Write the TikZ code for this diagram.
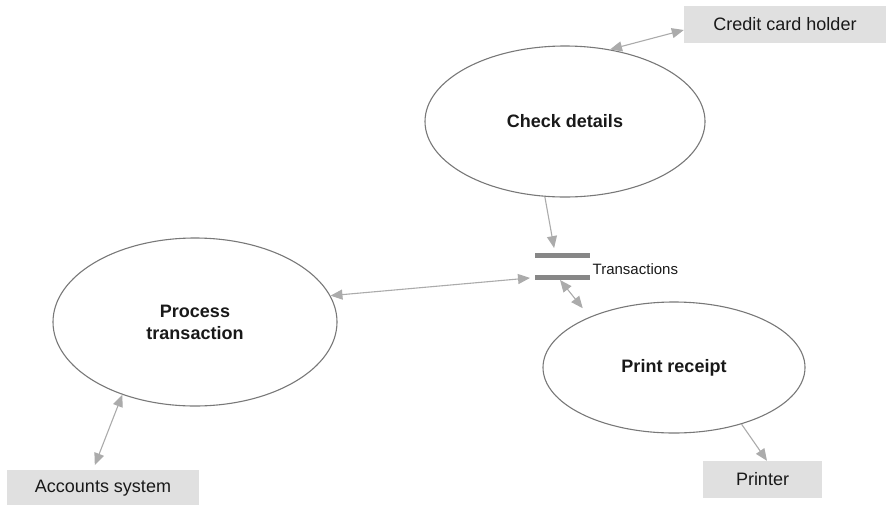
\documentclass[tikz,border=0pt]{standalone}
\usepackage{fontspec}
\setmainfont{Liberation Sans}
\usetikzlibrary{arrows.meta}
\usetikzlibrary{positioning, shapes.geometric}
\usepackage{xcolor}
\colorlet{myline}{black!53}
\colorlet{myarrow}{black!33}
\colorlet{mybox}{black!12}
\colorlet{mybar}{black!47}
\colorlet{mytext}{black!90}
\tikzset{
  >={Triangle[length=12pt,width=10pt]},
  process/.style={ellipse,draw=myline,line width=1.1pt,inner sep=0,text=mytext,align=center,font=\fontsize{18}{22}\selectfont\bfseries},
  entity/.style={fill=mybox,minimum height=37pt,inner sep=0,text=mytext,font=\fontsize{18}{22}\selectfont},
  store/.style={minimum width=55pt,minimum height=27pt,inner sep=0,outer sep=0},
  bar/.style={fill=mybar},
  store label/.style={inner sep=0,text=mytext,font=\fontsize{15}{18}\selectfont},
  flow/.style={line width=1.1pt,myarrow}
}

\begin{document}
\begin{tikzpicture}[x=1pt,y=-1pt]
  \useasboundingbox (0,0) rectangle (886,504);

  % --- PROCESSES ---
  \node[process, minimum width=280pt, minimum height=151pt] (P-check) at (565,121.5) {Check details};
  \node[process, minimum width=284pt, minimum height=168pt] (P-process) at (195,322) {Process\\transaction};
  \node[process, minimum width=262pt, minimum height=131pt] (P-print) at (674,367.5) {Print receipt};

  % --- EXTERNAL ENTITIES ---
  \node[entity, minimum width=202pt] (E-holder) at (785,24.5) {Credit card holder};
  \node[entity, minimum width=192pt] (E-accounts) at (103,488.5) {Accounts system};
  \node[entity, minimum width=119pt] (E-printer) at (762.5,479.5) {Printer};

  % --- DATA STORE ---
  \node[store] (D-trans) at (562.5,266.5) {};
  \fill[bar] (D-trans.north west) rectangle ([yshift=-5pt]D-trans.north east);
  \fill[bar] ([yshift=5pt]D-trans.south west) rectangle (D-trans.south east);
  \node[store label, right=2.5pt of D-trans, yshift=-2.5pt] (D-trans-label) {Transactions};

  % --- FLOWS ---
  \draw[flow, <->] (P-check.58) -- ([yshift=-5.5pt]E-holder.west);
  \draw[flow, ->, shorten >=5pt] (P-check.-105) -- ([xshift=-7.5pt]D-trans.north);
  \draw[flow, <->, shorten >=5pt] (P-process.11) -- ([yshift=-11pt]D-trans.west);
  \draw[flow, <->, shorten >=11pt] ([xshift=-2.5pt]D-trans.south) -- (P-print.149);
  \draw[flow, ->] (P-print.-40) -- ([xshift=4.5pt]E-printer.north);
  \draw[flow, <->, shorten >=5pt] (P-process.-135) -- ([xshift=-10pt]E-accounts.north);

\end{tikzpicture}
\end{document}
